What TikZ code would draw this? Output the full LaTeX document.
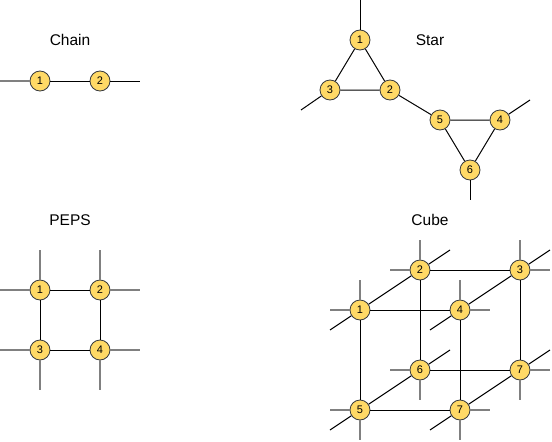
\documentclass[tikz,border=0pt]{standalone}
\usepackage{fontspec}
\setmainfont{Liberation Sans}
\definecolor{tfill}{HTML}{FFD966}
\definecolor{tline}{HTML}{36393D}
\definecolor{legcol}{HTML}{808080}
\tikzset{
  tn/.style={circle, draw=tline, fill=tfill, line width=0.8pt, minimum size=20pt, inner sep=0pt, font=\fontsize{11}{12}\selectfont},
  bond/.style={line width=1pt, black},
  leg/.style={line width=1pt, black},
  gleg/.style={line width=1.6pt, legcol},
  qleg/.style={line width=1.2pt, legcol},
  title/.style={font=\fontsize{15.5}{18}\selectfont}
}
\begin{document}
\begin{tikzpicture}[x=1pt,y=-1pt]
	\useasboundingbox (0,0) rectangle (552,442);

	% chain
	\node[title] (tchain) at (70,40) {Chain};
	\node[tn] (c1) at (40,81) {1};
	\node[tn] (c2) at (100,81) {2};
	\coordinate (cl) at (0,81);
	\coordinate (cr) at (140,81);
	\draw[gleg] (cl) -- (c1);
	\draw[bond] (c1) -- (c2);
	\draw[leg] (c2) -- (cr);

	% star
	\node[title] (tstar) at (430,40) {Star};
	\node[tn] (s1) at (360,40) {1};
	\node[tn] (s2) at (390,90) {2};
	\node[tn] (s3) at (330,90) {3};
	\node[tn] (s5) at (440,120) {5};
	\node[tn] (s4) at (500,120) {4};
	\node[tn] (s6) at (470,170) {6};
	\coordinate (s1e) at (360,0);
	\coordinate (s3e) at (301,110);
	\coordinate (s4e) at (530,100);
	\coordinate (s6e) at (470,200);
	\draw[bond] (s1) -- (s2) -- (s3) -- (s1);
	\draw[bond] (s2) -- (s5);
	\draw[bond] (s5) -- (s4) -- (s6) -- (s5);
	\draw[leg] (s1) -- (s1e);
	\draw[leg] (s3) -- (s3e);
	\draw[leg] (s4) -- (s4e);
	\draw[leg] (s6) -- (s6e);

	% peps
	\node[title] (tpeps) at (70,220) {PEPS};
	\node[tn] (p1) at (40,290) {1};
	\node[tn] (p2) at (100,290) {2};
	\node[tn] (p3) at (40,350) {3};
	\node[tn] (p4) at (100,350) {4};
	\draw[bond] (p1) -- (p2) -- (p4) -- (p3) -- (p1);
	\foreach \n/\dx/\dy [count=\i] in {p1/0/-40, p1/-40/0, p2/0/-40, p2/40/0,
	    p3/-40/0, p3/0/40, p4/40/0, p4/0/40}
	  {\path (\n) ++(\dx,\dy) coordinate (pe\i);
	   \draw[gleg] (\n) -- (pe\i);}

	% cube
	\node[title] (tcube) at (430,220) {Cube};
	\node[tn] (q1) at (360,310) {1};
	\node[tn] (q2) at (420,270) {2};
	\node[tn] (q3) at (520,270) {3};
	\node[tn] (q4) at (460,310) {4};
	\node[tn] (q5) at (360,410) {5};
	\node[tn] (q6) at (420,370) {6};
	\node[tn] (q7) at (520,370) {7};
	\node[tn] (q8) at (460,410) {7};
	\draw[bond] (q1) -- (q2);
	\draw[bond] (q1) -- (q4);
	\draw[bond] (q1) -- (q5);
	\draw[bond] (q2) -- (q3);
	\draw[bond] (q2) -- (q6);
	\draw[bond] (q4) -- (q3);
	\draw[bond] (q4) -- (q8);
	\draw[bond] (q3) -- (q7);
	\draw[bond] (q5) -- (q6);
	\draw[bond] (q5) -- (q8);
	\draw[bond] (q6) -- (q7);
	\draw[bond] (q8) -- (q7);
	\foreach \n/\dx/\dy [count=\i] in {q1/-30/0, q1/0/-30, q2/-30/0, q2/0/-30,
	    q3/30/0, q3/0/-30, q4/30/0, q4/0/-30, q5/-30/0, q5/0/30,
	    q6/-30/0, q6/0/30, q7/30/0, q7/0/30, q8/30/0, q8/0/30}
	  {\path (\n) ++(\dx,\dy) coordinate (qe\i);
	   \draw[qleg] (\n) -- (qe\i);}
	\foreach \n/\dx/\dy [count=\i] in {q1/-30/20, q2/30/-20, q3/30/-20, q4/-30/20,
	    q5/-30/20, q6/30/-20, q7/30/-20, q8/-30/20}
	  {\path (\n) ++(\dx,\dy) coordinate (qd\i);
	   \draw[leg] (\n) -- (qd\i);}
\end{tikzpicture}
\end{document}
